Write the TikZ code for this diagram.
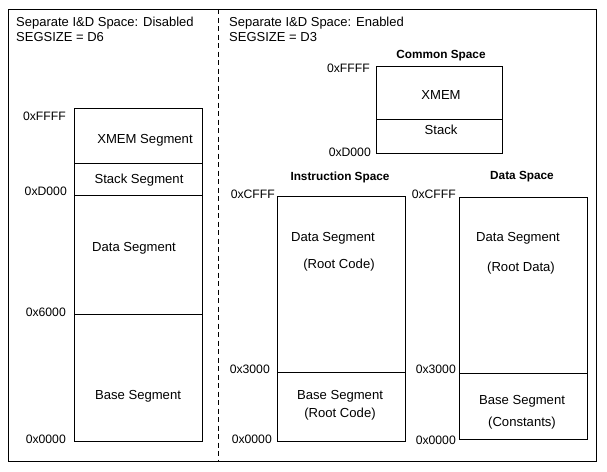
\documentclass[tikz,border=0pt]{standalone}
\usepackage{fontspec}
\setmainfont{Liberation Sans}
\begin{document}
\begin{tikzpicture}[x=1pt,y=-1pt,
  lbl/.style={inner sep=0pt,font=\fontsize{13.1}{15}\selectfont},
  hdr/.style={inner sep=0pt,anchor=west,font=\fontsize{13}{15}\selectfont},
  ttl/.style={inner sep=0pt,font=\bfseries\fontsize{11.8}{13}\selectfont},
  addr/.style={inner sep=0pt,anchor=east,font=\fontsize{12.2}{14}\selectfont},
  seg/.style={draw=black,line width=0.9pt}]
\useasboundingbox (0,0) rectangle (607,471);
\draw[line width=1pt] (8,9) rectangle (596,461);
\draw[line width=0.9pt,dash pattern=on 5pt off 3.5pt] (218,9) -- (218,461);
% headers
\node[hdr] (h1a) at (16,23) {Separate I\&D Space: Disabled};
\node[hdr] (h1b) at (16,37) {SEGSIZE = D6};
\node[hdr] (h2a) at (229,23) {Separate I\&D Space: Enabled};
\node[hdr] (h2b) at (229,37) {SEGSIZE = D3};
% left column
\draw[seg] (74,108) rectangle (202,441);
\draw[seg] (74,163) -- (202,163);
\draw[seg] (74,195) -- (202,195);
\draw[seg] (74,314) -- (202,314);
\node[lbl] (lx) at (145,140) {XMEM Segment};
\node[lbl] (ls) at (139,180) {Stack Segment};
\node[lbl] (ld) at (134,248) {Data Segment};
\node[lbl] (lb) at (138,396) {Base Segment};
\node[addr] (a1) at (66,116) {0xFFFF};
\node[addr] (a2) at (67,191) {0xD000};
\node[addr] (a3) at (66,312) {0x6000};
\node[addr] (a4) at (66,439) {0x0000};
% common space
\node[ttl] (tc) at (441,56) {Common Space};
\draw[seg] (376,66) rectangle (502,153);
\draw[seg] (376,119) -- (502,119);
\node[lbl] (cx) at (441,95) {XMEM};
\node[lbl] (cs) at (441,130) {Stack};
\node[addr] (c1) at (370,68) {0xFFFF};
\node[addr] (c2) at (371,152) {0xD000};
% instruction space
\node[ttl] (ti) at (340,177) {Instruction Space};
\draw[seg] (277,196) rectangle (405,441);
\draw[seg] (277,372) -- (405,372);
\node[lbl] (id) at (333,238) {Data Segment};
\node[lbl] (ir) at (339,265) {(Root Code)};
\node[lbl] (ib) at (340,396) {Base Segment};
\node[lbl] (ir2) at (340,414) {(Root Code)};
\node[addr] (i1) at (275,194) {0xCFFF};
\node[addr] (i2) at (270,369) {0x3000};
\node[addr] (i3) at (272,439) {0x0000};
% data space
\node[ttl] (td) at (522,177) {Data Space};
\draw[seg] (459,197) rectangle (587,439);
\draw[seg] (459,373) -- (587,373);
\node[lbl] (dd) at (518,238) {Data Segment};
\node[lbl] (dr) at (521,268) {(Root Data)};
\node[lbl] (db) at (522,401) {Base Segment};
\node[lbl] (dc) at (522,423) {(Constants)};
\node[addr] (d1) at (456,194) {0xCFFF};
\node[addr] (d2) at (456,369) {0x3000};
\node[addr] (d3) at (456,440) {0x0000};
\end{tikzpicture}
\end{document}
